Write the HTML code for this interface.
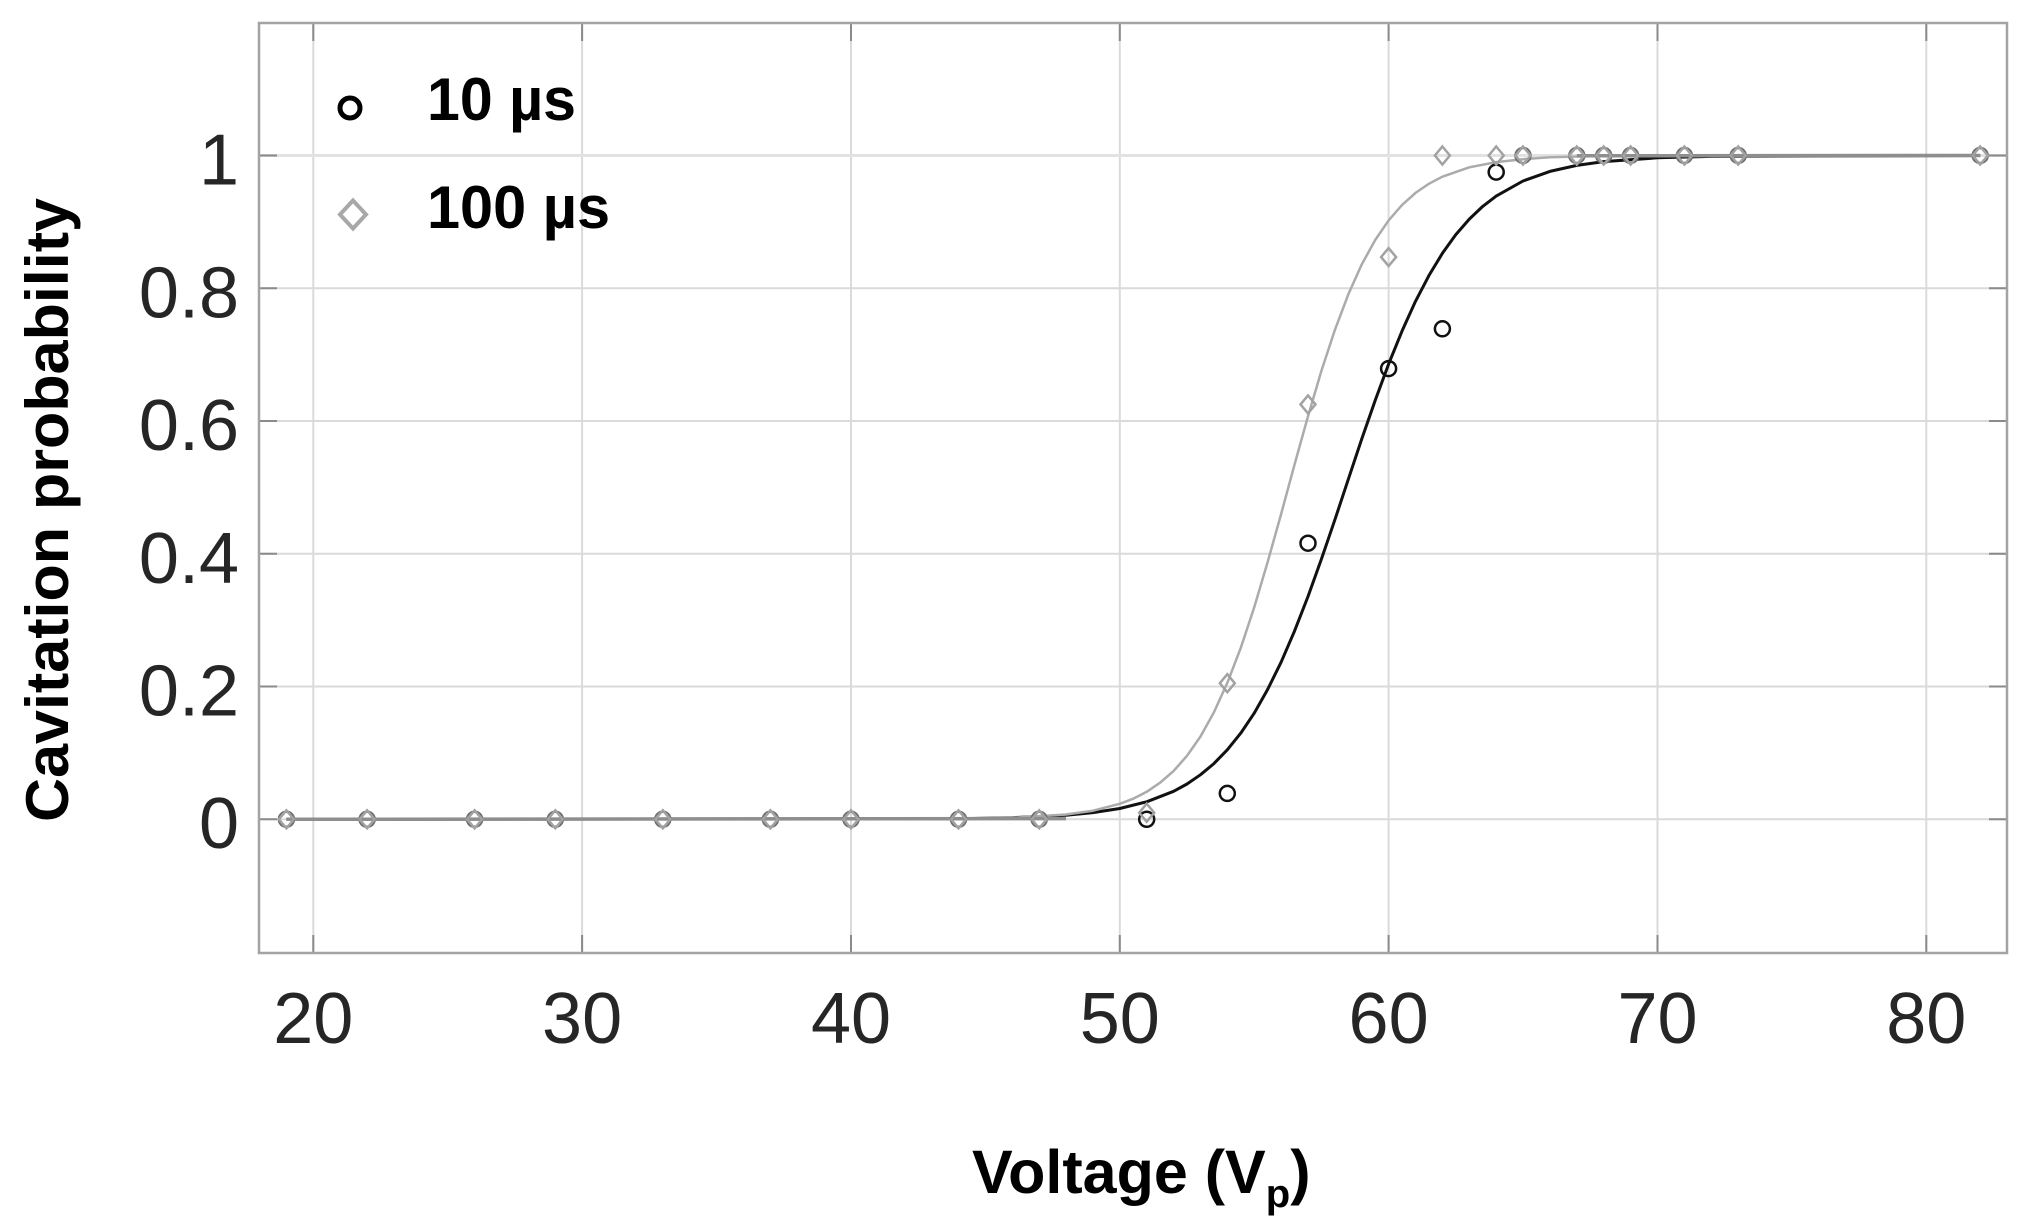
<!DOCTYPE html>
<html>
<head>
<meta charset="utf-8">
<style>
  html,body{margin:0;padding:0;background:#fff;}
  svg{display:block;}
  text{font-family:"Liberation Sans", Arial, sans-serif;}
</style>
</head>
<body>
<svg width="2030" height="1230" viewBox="0 0 2030 1230" xmlns="http://www.w3.org/2000/svg">
  <rect x="0" y="0" width="2030" height="1230" fill="#fff"/>

  <!-- grid -->
  <g stroke="#dadada" stroke-width="2" fill="none">
    <line x1="313.3" y1="23" x2="313.3" y2="953"/>
    <line x1="582.1" y1="23" x2="582.1" y2="953"/>
    <line x1="851.0" y1="23" x2="851.0" y2="953"/>
    <line x1="1119.8" y1="23" x2="1119.8" y2="953"/>
    <line x1="1388.6" y1="23" x2="1388.6" y2="953"/>
    <line x1="1657.5" y1="23" x2="1657.5" y2="953"/>
    <line x1="1926.3" y1="23" x2="1926.3" y2="953"/>
    <line x1="259" y1="819.3" x2="2007" y2="819.3"/>
    <line x1="259" y1="686.5" x2="2007" y2="686.5"/>
    <line x1="259" y1="553.8" x2="2007" y2="553.8"/>
    <line x1="259" y1="421.0" x2="2007" y2="421.0"/>
    <line x1="259" y1="288.3" x2="2007" y2="288.3"/>
    <line x1="259" y1="155.5" x2="2007" y2="155.5" stroke="#e2e2e2" stroke-width="3"/>
  </g>

  <!-- ticks -->
  <g stroke="#8a8a8a" stroke-width="2">
    <line x1="313.3" y1="953" x2="313.3" y2="935"/><line x1="313.3" y1="23" x2="313.3" y2="41"/>
    <line x1="582.1" y1="953" x2="582.1" y2="935"/><line x1="582.1" y1="23" x2="582.1" y2="41"/>
    <line x1="851.0" y1="953" x2="851.0" y2="935"/><line x1="851.0" y1="23" x2="851.0" y2="41"/>
    <line x1="1119.8" y1="953" x2="1119.8" y2="935"/><line x1="1119.8" y1="23" x2="1119.8" y2="41"/>
    <line x1="1388.6" y1="953" x2="1388.6" y2="935"/><line x1="1388.6" y1="23" x2="1388.6" y2="41"/>
    <line x1="1657.5" y1="953" x2="1657.5" y2="935"/><line x1="1657.5" y1="23" x2="1657.5" y2="41"/>
    <line x1="1926.3" y1="953" x2="1926.3" y2="935"/><line x1="1926.3" y1="23" x2="1926.3" y2="41"/>
    <line x1="259" y1="819.3" x2="277" y2="819.3"/><line x1="2007" y1="819.3" x2="1989" y2="819.3"/>
    <line x1="259" y1="686.5" x2="277" y2="686.5"/><line x1="2007" y1="686.5" x2="1989" y2="686.5"/>
    <line x1="259" y1="553.8" x2="277" y2="553.8"/><line x1="2007" y1="553.8" x2="1989" y2="553.8"/>
    <line x1="259" y1="421.0" x2="277" y2="421.0"/><line x1="2007" y1="421.0" x2="1989" y2="421.0"/>
    <line x1="259" y1="288.3" x2="277" y2="288.3"/><line x1="2007" y1="288.3" x2="1989" y2="288.3"/>
    <line x1="259" y1="155.5" x2="277" y2="155.5"/><line x1="2007" y1="155.5" x2="1989" y2="155.5"/>
  </g>

  <!-- axes box -->
  <rect x="259" y="23" width="1748" height="930" fill="none" stroke="#a3a3a3" stroke-width="2.5"/>

  <!-- fit curves -->
  <path fill="none" stroke="#111" stroke-width="3" stroke-linejoin="round"
    d="M286.4,819.3 L958.5,818.7 L1012.3,817.7 L1066.0,815.2 L1092.9,812.6 L1119.8,808.5 L1146.7,801.8 L1173.6,791.3 L1187.0,784.0 L1200.4,774.8 L1213.9,763.6 L1227.3,749.8 L1240.8,733.1 L1254.2,713.2 L1267.6,689.5 L1281.1,662.2 L1294.5,631.1 L1308.0,596.5 L1321.4,559.1 L1334.9,519.7 L1348.3,479.3 L1361.7,439.1 L1375.2,400.4 L1388.6,364.1 L1402.1,330.9 L1415.5,301.3 L1429.0,275.4 L1442.4,253.3 L1455.8,234.6 L1469.3,219.1 L1482.7,206.4 L1496.2,196.1 L1523.0,181.0 L1549.9,171.4 L1576.8,165.4 L1603.7,161.6 L1657.5,157.8 L1711.3,156.4 L1980.2,155.5"/>
  <path fill="none" stroke="#ababab" stroke-width="2.5" stroke-linejoin="round"
    d="M286.4,819.3 L958.5,818.8 L1012.3,817.8 L1066.0,814.5 L1092.9,810.7 L1119.8,803.8 L1133.2,798.7 L1146.7,791.8 L1160.1,782.7 L1173.6,771.0 L1187.0,755.8 L1200.4,736.6 L1213.9,712.4 L1227.3,682.9 L1240.8,647.8 L1254.2,607.4 L1267.6,562.2 L1281.1,514.1 L1294.5,464.7 L1308.0,416.3 L1321.4,370.9 L1334.9,329.9 L1348.3,294.4 L1361.7,264.5 L1375.2,240.0 L1388.6,220.4 L1402.1,204.9 L1415.5,192.9 L1429.0,183.7 L1442.4,176.7 L1469.3,167.3 L1496.2,162.1 L1523.0,159.2 L1549.9,157.3 L1603.7,155.9 L1657.5,155.6 L1980.2,155.5"/>
  <!-- overlapping flat parts appear mid-gray -->
  <path fill="none" stroke="#8e8e8e" stroke-width="3.5" d="M286.4,819.3 L1066,818.6 M1576.8,155.8 L1980.2,155.5"/>

  <!-- 10 us circles -->
  <g fill="none" stroke="#6e6e6e" stroke-width="2.5">
    <circle cx="286.4" cy="819.3" r="7.5"/>
    <circle cx="367.1" cy="819.3" r="7.5"/>
    <circle cx="474.6" cy="819.3" r="7.5"/>
    <circle cx="555.3" cy="819.3" r="7.5"/>
    <circle cx="662.8" cy="819.3" r="7.5"/>
    <circle cx="770.4" cy="819.3" r="7.5"/>
    <circle cx="851.0" cy="819.3" r="7.5"/>
    <circle cx="958.5" cy="819.3" r="7.5"/>
    <circle cx="1039.2" cy="819.3" r="7.5"/>
    <circle cx="1523.0" cy="155.5" r="7.5"/>
    <circle cx="1576.8" cy="155.5" r="7.5"/>
    <circle cx="1603.7" cy="155.5" r="7.5"/>
    <circle cx="1630.6" cy="155.5" r="7.5"/>
    <circle cx="1684.4" cy="155.5" r="7.5"/>
    <circle cx="1738.2" cy="155.5" r="7.5"/>
    <circle cx="1980.2" cy="155.5" r="7.5"/>
  </g>
  <g fill="none" stroke="#111" stroke-width="2.5">
    <circle cx="1146.7" cy="819.3" r="7.5"/>
    <circle cx="1227.3" cy="793.4" r="7.5"/>
    <circle cx="1308.0" cy="543.2" r="7.5"/>
    <circle cx="1388.6" cy="368.6" r="7.5"/>
    <circle cx="1442.4" cy="328.8" r="7.5"/>
    <circle cx="1496.2" cy="172.1" r="7.5"/>
  </g>

  <!-- 100 us diamonds -->
  <g fill="none" stroke="#a2a2a2" stroke-width="2.5" stroke-linejoin="miter">
    <path d="M286.4,810.3 L293.9,819.3 L286.4,828.3 L278.9,819.3 Z"/>
    <path d="M367.1,810.3 L374.6,819.3 L367.1,828.3 L359.6,819.3 Z"/>
    <path d="M474.6,810.3 L482.1,819.3 L474.6,828.3 L467.1,819.3 Z"/>
    <path d="M555.3,810.3 L562.8,819.3 L555.3,828.3 L547.8,819.3 Z"/>
    <path d="M662.8,810.3 L670.3,819.3 L662.8,828.3 L655.3,819.3 Z"/>
    <path d="M770.4,810.3 L777.9,819.3 L770.4,828.3 L762.9,819.3 Z"/>
    <path d="M851.0,810.3 L858.5,819.3 L851.0,828.3 L843.5,819.3 Z"/>
    <path d="M958.5,810.3 L966.0,819.3 L958.5,828.3 L951.0,819.3 Z"/>
    <path d="M1039.2,810.3 L1046.7,819.3 L1039.2,828.3 L1031.7,819.3 Z"/>
    <path d="M1146.7,803.7 L1154.2,812.7 L1146.7,821.7 L1139.2,812.7 Z"/>
    <path d="M1227.3,674.2 L1234.8,683.2 L1227.3,692.2 L1219.8,683.2 Z"/>
    <path d="M1308.0,395.4 L1315.5,404.4 L1308.0,413.4 L1300.5,404.4 Z"/>
    <path d="M1388.6,248.1 L1396.1,257.1 L1388.6,266.1 L1381.1,257.1 Z"/>
    <path d="M1442.4,146.5 L1449.9,155.5 L1442.4,164.5 L1434.9,155.5 Z"/>
    <path d="M1496.2,146.5 L1503.7,155.5 L1496.2,164.5 L1488.7,155.5 Z"/>
    <path d="M1523.0,146.5 L1530.5,155.5 L1523.0,164.5 L1515.5,155.5 Z"/>
    <path d="M1576.8,146.5 L1584.3,155.5 L1576.8,164.5 L1569.3,155.5 Z"/>
    <path d="M1603.7,146.5 L1611.2,155.5 L1603.7,164.5 L1596.2,155.5 Z"/>
    <path d="M1630.6,146.5 L1638.1,155.5 L1630.6,164.5 L1623.1,155.5 Z"/>
    <path d="M1684.4,146.5 L1691.9,155.5 L1684.4,164.5 L1676.9,155.5 Z"/>
    <path d="M1738.2,146.5 L1745.7,155.5 L1738.2,164.5 L1730.7,155.5 Z"/>
    <path d="M1980.2,146.5 L1987.7,155.5 L1980.2,164.5 L1972.7,155.5 Z"/>
  </g>

  <!-- x tick labels -->
  <g font-size="72" fill="#262626" text-anchor="middle">
    <text x="313.3" y="1043">20</text>
    <text x="582.1" y="1043">30</text>
    <text x="851.0" y="1043">40</text>
    <text x="1119.8" y="1043">50</text>
    <text x="1388.6" y="1043">60</text>
    <text x="1657.5" y="1043">70</text>
    <text x="1926.3" y="1043">80</text>
  </g>
  <!-- y tick labels -->
  <g font-size="72" fill="#262626" text-anchor="end">
    <text x="239" y="848">0</text>
    <text x="239" y="715.5">0.2</text>
    <text x="239" y="582.8">0.4</text>
    <text x="239" y="450">0.6</text>
    <text x="239" y="317.3">0.8</text>
    <text x="239" y="184.5">1</text>
  </g>

  <!-- legend -->
  <circle cx="350" cy="108" r="10" fill="none" stroke="#000" stroke-width="5"/>
  <path d="M353,200.5 L366,214.5 L353,228.5 L340,214.5 Z" fill="none" stroke="#a8a8a8" stroke-width="4"/>
  <text x="427" y="120" font-size="60" font-weight="bold" fill="#000" textLength="149" lengthAdjust="spacingAndGlyphs">10 µs</text>
  <text x="427" y="228" font-size="60" font-weight="bold" fill="#000" textLength="183" lengthAdjust="spacingAndGlyphs">100 µs</text>

  <!-- axis labels -->
  <text transform="translate(68,510) rotate(-90)" text-anchor="middle" font-size="60" font-weight="bold" fill="#000" textLength="624" lengthAdjust="spacingAndGlyphs">Cavitation probability</text>
  <text x="972" y="1193" font-size="61" font-weight="bold" fill="#000">Voltage (V<tspan font-size="40" dy="14">p</tspan><tspan dy="-14">)</tspan></text>
</svg>
</body>
</html>
